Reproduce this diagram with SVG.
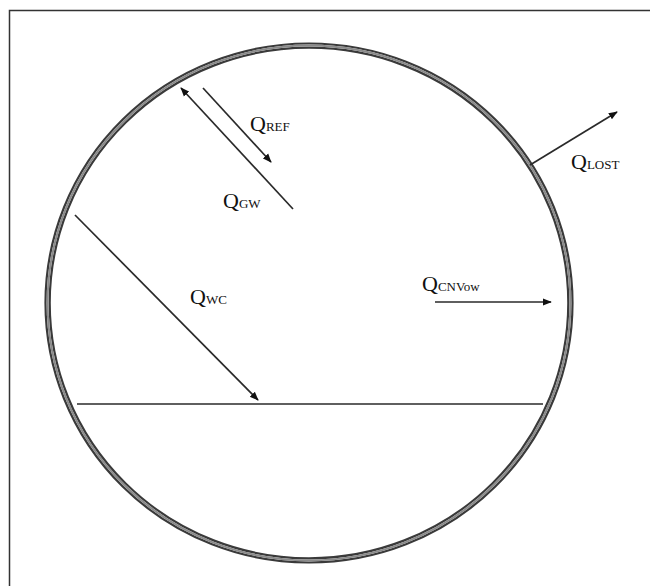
<svg xmlns="http://www.w3.org/2000/svg" width="650" height="586" viewBox="0 0 650 586">
<style>
.ring{fill:none;stroke:#3a3a3a;stroke-width:2.2}
.ln{stroke:#2a2a2a;stroke-width:1.7;fill:none}
.lbl{font-family:"Liberation Serif","Times New Roman",serif;fill:#111;font-size:22px}
.sub{font-size:13px}
</style>
<defs>
<marker id="ah" viewBox="0 0 10 10" refX="9" refY="5" markerWidth="9" markerHeight="9" orient="auto" markerUnits="userSpaceOnUse">
<path d="M0,1 L10,5 L0,9 Z" fill="#111"/>
</marker>
</defs>
<rect width="650" height="586" fill="#fff"/>
<path d="M9.5,586 V10.5 H650" fill="none" stroke="#333" stroke-width="1.5"/>
<g id="vessel">
<ellipse class="ring" cx="309" cy="303" rx="263.5" ry="259.5"/>
<ellipse class="ring" cx="309" cy="303" rx="259.3" ry="255.3"/>
<ellipse fill="none" stroke="#8a8a8a" stroke-width="2" cx="309" cy="303" rx="261.4" ry="257.4"/>
</g>
<g id="surface">
<line class="ln" x1="77" y1="404" x2="543" y2="404"/>
</g>
<g id="connectors">
<line class="ln" x1="203" y1="88" x2="271" y2="162" marker-end="url(#ah)"/>
<line class="ln" x1="293" y1="209" x2="181" y2="88" marker-end="url(#ah)"/>
<line class="ln" x1="75" y1="215" x2="258" y2="400" marker-end="url(#ah)"/>
<line class="ln" x1="530" y1="165" x2="617" y2="112" marker-end="url(#ah)"/>
<line class="ln" x1="435" y1="302" x2="551" y2="302" marker-end="url(#ah)"/>
</g>
<g id="labels">
<text id="qref" class="lbl" x="250" y="131">Q<tspan class="sub">REF</tspan></text>
<text id="qgw" class="lbl" x="223" y="208">Q<tspan class="sub">GW</tspan></text>
<text id="qlost" class="lbl" x="571" y="169">Q<tspan class="sub">LOST</tspan></text>
<text id="qcnv" class="lbl" x="422" y="291">Q<tspan class="sub">CNVow</tspan></text>
<text id="qwc" class="lbl" x="190" y="304">Q<tspan class="sub">WC</tspan></text>
</g>
</svg>
